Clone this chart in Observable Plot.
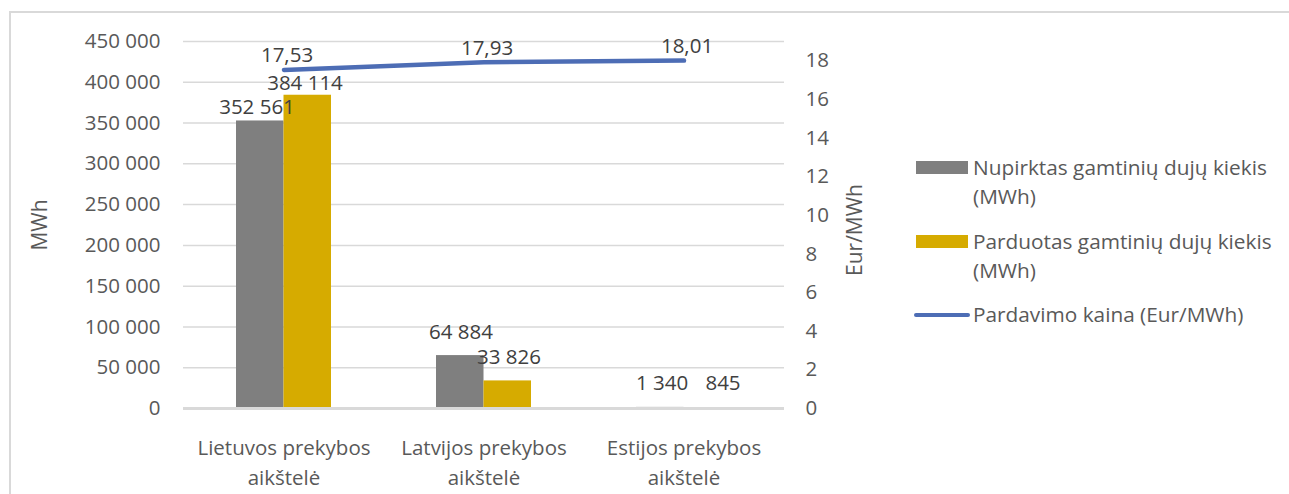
<!DOCTYPE html>
<html><head><meta charset="utf-8">
<script src="https://cdn.jsdelivr.net/npm/d3@7"></script>
<script src="https://cdn.jsdelivr.net/npm/@observablehq/plot@0.6"></script>
<style>
body{margin:0;background:#fff;}
#wrap{position:relative;width:1289px;height:494px;overflow:hidden;font-family:"Open Sans",sans-serif;color:#595959;}
#frame{position:absolute;left:9px;top:11px;width:1300px;height:500px;border-top:2px solid #d9d9d9;border-left:2px solid #d9d9d9;}
#chart{position:absolute;left:0;top:0;}
.lg{position:absolute;left:973px;font-size:20.8px;line-height:29px;white-space:nowrap;}
.sw{position:absolute;}
</style>
</head><body>
<div id="wrap"><div id="frame"></div><div id="chart"></div><div id="legend"></div></div>
<script>
const categories = ["Lietuvos prekybos aikštelė", "Latvijos prekybos aikštelė", "Estijos prekybos aikštelė"];
const purchased = [352561, 64884, 1340];
const sold = [384114, 33826, 845];
const price = [17.53, 17.93, 18.01];
const seriesNames = ["Nupirktas gamtinių dujų kiekis (MWh)", "Parduotas gamtinių dujų kiekis (MWh)", "Pardavimo kaina (Eur/MWh)"];
const leftTicks = [0, 50000, 100000, 150000, 200000, 250000, 300000, 350000, 400000, 450000];
const rightTicks = [0, 2, 4, 6, 8, 10, 12, 14, 16, 18];
const leftTitle = "MWh";
const rightTitle = "Eur/MWh";

const colors = ["#7f7f7f", "#d6ab00", "#4d6db5"];
const k = 450000 / 19; // right axis max ~19
const loc = d3.formatLocale({decimal: ",", thousands: " ", grouping: [3], currency: ["", ""]});
const fInt = loc.format(",d");
const fDec = loc.format(",.2f");

const bars = categories.flatMap((c, i) => [
  {category: c, side: 0, value: purchased[i], idx: i},
  {category: c, side: 1, value: sold[i], idx: i}
]);
const priceRows = categories.map((c, i) => ({category: c, price: price[i], idx: i}));

const FS = 20.5;
const lab = (filter, dx, dy) => Plot.text(bars.filter(filter), {x: "category", y: "value", text: d => fInt(d.value), dx, dy, fontSize: FS, fill: "#404040"});

const chart = Plot.plot({
  width: 1289, height: 494,
  marginLeft: 183, marginRight: 505, marginTop: 41, marginBottom: 86,
  style: {fontFamily: "'Open Sans', sans-serif", fontSize: FS + "px", color: "#595959", background: "transparent", overflow: "visible"},
  x: {domain: categories, paddingInner: 0.525, paddingOuter: 0.2625, label: null},
  y: {domain: [0, 450000], label: null},
  marks: [
    Plot.gridY(leftTicks, {stroke: "#d9d9d9", strokeOpacity: 1, strokeWidth: 1.5}),
    Plot.axisY(leftTicks, {anchor: "left", tickSize: 0, tickPadding: 23, tickFormat: fInt, label: null, fontSize: FS}),
    Plot.axisY(rightTicks.map(v => v * k), {anchor: "right", tickSize: 0, tickPadding: 21, tickFormat: d => String(Math.round(d / k)), label: null, fontSize: FS}),
    Plot.axisX({anchor: "bottom", tickSize: 0, tickPadding: 25, tickFormat: d => d.replace(" aikštelė", "\naikštelė"), lineHeight: 1.47, label: null, fontSize: FS}),
    Plot.text([leftTitle], {frameAnchor: "left", textAnchor: "middle", rotate: -90, dx: -143, fontSize: 21, fill: "#595959"}),
    Plot.text([rightTitle], {frameAnchor: "right", textAnchor: "middle", rotate: -90, dx: 71, dy: 5, fontSize: 21, fill: "#595959"}),
    Plot.barY(bars.filter(d => d.side === 0), {x: "category", y: "value", fill: colors[0], insetRight: 47.5}),
    Plot.barY(bars.filter(d => d.side === 1), {x: "category", y: "value", fill: colors[1], insetLeft: 47.5}),
    Plot.ruleY([0], {stroke: "#d9d9d9", strokeWidth: 3}),
    Plot.line(priceRows, {x: "category", y: d => d.price * k, stroke: colors[2], strokeWidth: 4.5, strokeLinecap: "round"}),
    Plot.text(priceRows, {x: "category", y: d => d.price * k, text: d => fDec(d.price), dx: 3, dy: -14, fontSize: FS, fill: "#404040"}),
    lab(d => d.side === 0 && d.idx === 0, -27, -14),
    lab(d => d.side === 1 && d.idx === 0, 21, -12),
    lab(d => d.side === 0 && d.idx === 1, -23, -23),
    lab(d => d.side === 1 && d.idx === 1, 25, -23),
    lab(d => d.side === 0 && d.idx === 2, -22, -24),
    lab(d => d.side === 1 && d.idx === 2, 39, -24)
  ]
});
document.getElementById("chart").appendChild(chart);

const lg = document.getElementById("legend");
const tops = [153, 227, 300];
seriesNames.forEach((name, i) => {
  const t = document.createElement("div");
  t.className = "lg";
  t.style.top = tops[i] + "px";
  const parts = name.split(" (MWh)");
  if (parts.length > 1) { t.appendChild(document.createTextNode(parts[0])); t.appendChild(document.createElement("br")); t.appendChild(document.createTextNode("(MWh)")); }
  else t.textContent = name;
  lg.appendChild(t);
  const s = document.createElement("div");
  s.className = "sw";
  s.style.background = colors[i];
  if (i < 2) { s.style.left = "916px"; s.style.top = (tops[i] + 8) + "px"; s.style.width = "52px"; s.style.height = "13px"; }
  else { s.style.left = "914px"; s.style.top = (tops[i] + 13) + "px"; s.style.width = "56px"; s.style.height = "4px"; s.style.borderRadius = "2px"; }
  lg.appendChild(s);
});
</script>
</body></html>
